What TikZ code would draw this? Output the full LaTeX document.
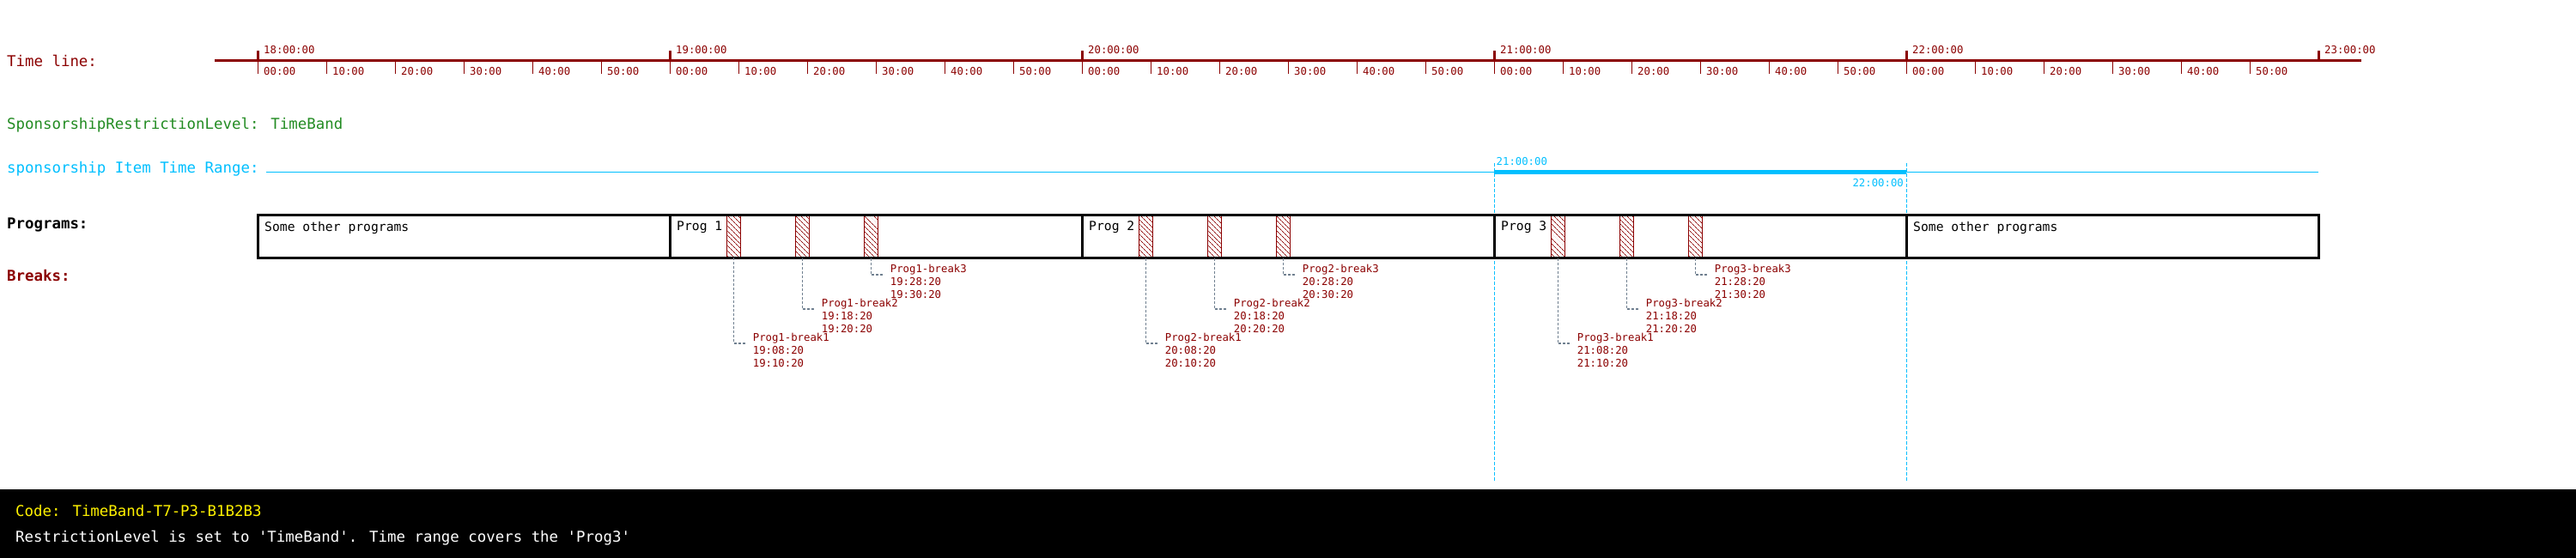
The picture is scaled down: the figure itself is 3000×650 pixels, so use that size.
\documentclass[tikz,border=0pt]{standalone}
\usepackage{fontspec}
\setmainfont{DejaVu Sans Mono}
\usetikzlibrary{patterns.meta}
\definecolor{tlred}{RGB}{139,0,0}
\definecolor{spgreen}{RGB}{34,139,34}
\definecolor{spcyan}{RGB}{0,191,255}
\definecolor{leadgray}{RGB}{112,128,144}

\begin{document}
\begin{tikzpicture}[x=1pt,y=-1pt,
    biglabel/.style={anchor=west,inner sep=0pt,font=\fontsize{17.4}{20}\selectfont},
    smalllabel/.style={anchor=west,inner sep=0pt,font=\fontsize{12.3}{15}\selectfont},
    progbox/.style={draw,line width=3pt,minimum width=480pt,minimum height=50pt,inner sep=0pt},
    progname/.style={anchor=west,inner sep=0pt,font=\fontsize{14.7}{17}\selectfont},
    brkbox/.style={draw=tlred,line width=1pt,minimum width=16pt,minimum height=50pt,inner sep=0pt,
      pattern={Lines[angle=-45,distance=4pt,line width=0.7pt]},pattern color=tlred},
    brklabel/.style={anchor=north west,inner sep=0pt,align=left,text=tlred,
      font=\fontsize{12.3}{15}\selectfont},
    leader/.style={draw=leadgray,line width=1.1pt,dash pattern=on 3pt off 2pt},
    rangemark/.style={draw=spcyan,line width=1pt,dash pattern=on 4pt off 2pt}
  ]
    \useasboundingbox (0,0) rectangle (3000,650);

    % time line
    \node[biglabel,text=tlred] (tllabel) at (8,70.7) {Time line:};
    \draw[tlred,line width=3.3pt] (250,70.7) -- (2750,70.7);
    \foreach \k in {0,1,...,29}
    {
      \pgfmathtruncatemacro{\mm}{mod(\k,6)*10}
      \draw[tlred,line width=1pt] (300+80*\k,70.7) -- (300+80*\k,86);
      \node[smalllabel,text=tlred] (min\k) at (307+80*\k,83.3)
        {\ifnum\mm=0 00\else\mm\fi:00};
    }
    \foreach \h in {0,1,...,5}
    {
      \pgfmathtruncatemacro{\hh}{18+\h}
      \draw[tlred,line width=3pt] (300+480*\h,59.5) -- (300+480*\h,70.7);
      \node[smalllabel,text=tlred] (hour\hh) at (307+480*\h,58) {\hh:00:00};
    }

    % sponsorship
    \node[biglabel,text=spgreen] (level) at (8,146) {SponsorshipRestrictionLevel: TimeBand};
    \node[biglabel,text=spcyan] (rangelabel) at (8,196.7) {sponsorship Item Time Range:};
    \draw[spcyan,line width=1.3pt] (310,200.5) -- (2700,200.5);
    \coordinate (rangestart) at (1740,200.5);
    \coordinate (rangeend) at (2220,200.5);
    \draw[spcyan,line width=5pt] (rangestart) -- (rangeend);
    \draw[rangemark] (1740,190) -- (1740,560);
    \draw[rangemark] (2220,190) -- (2220,560);
    \node[smalllabel,text=spcyan] (rangefrom) at (1742.5,187.7) {21:00:00};
    \node[smalllabel,anchor=east,text=spcyan] (rangeto) at (2217,213.3) {22:00:00};

    % programs and breaks
    \node[biglabel,font=\fontsize{17.4}{20}\selectfont\bfseries] (proglabel) at (8,261.7) {Programs:};
    \node[biglabel,text=tlred,font=\fontsize{17.4}{20}\selectfont\bfseries] (brklabel) at (8,320.7) {Breaks:};
    \foreach \i in {1,2,3}
      \foreach \j in {1,2,3}
      {
        \node[brkbox] (brk\i\j) at (300+480*\i+74.667+80*\j-80,275) {};
      }
    \node[progbox] (other1) at (540,275) {};
    \node[progname] (other1name) at (308,265) {Some other programs};
    \foreach \i in {1,2,3}
    {
      \node[progbox] (prog\i) at (540+480*\i,275) {};
      \node[progname] (prog\i name) at (308+480*\i,265) {Prog \i};
    }
    \node[progbox] (other2) at (2460,275) {};
    \node[progname] (other2name) at (2228,265) {Some other programs};
    \foreach \i in {1,2,3}
      \foreach \j in {1,2,3}
      {
        \pgfmathtruncatemacro{\hr}{18+\i}
        \pgfmathtruncatemacro{\m}{\j-1}
        \coordinate (brkend\i\j) at (300+480*\i+88.667+80*\m,400-40*\m);
        \draw[leader] (brk\i\j.south) |- (brkend\i\j);
        \node[brklabel] (brktext\i\j) at ([xshift=8pt,yshift=12pt]brkend\i\j)
          {Prog\i-break\j\\\hr:\m8:20\\\hr:\j0:20};
      }

    % footer
    \fill[black] (0,570) rectangle (3000,650);
    \node[biglabel,text=yellow] (code) at (18,595) {Code: TimeBand-T7-P3-B1B2B3};
    \node[biglabel,text=white] (note) at (18,626.7)
      {RestrictionLevel is set to \textquotesingle TimeBand\textquotesingle. Time range covers the \textquotesingle Prog3\textquotesingle};
  \end{tikzpicture}
\end{document}
